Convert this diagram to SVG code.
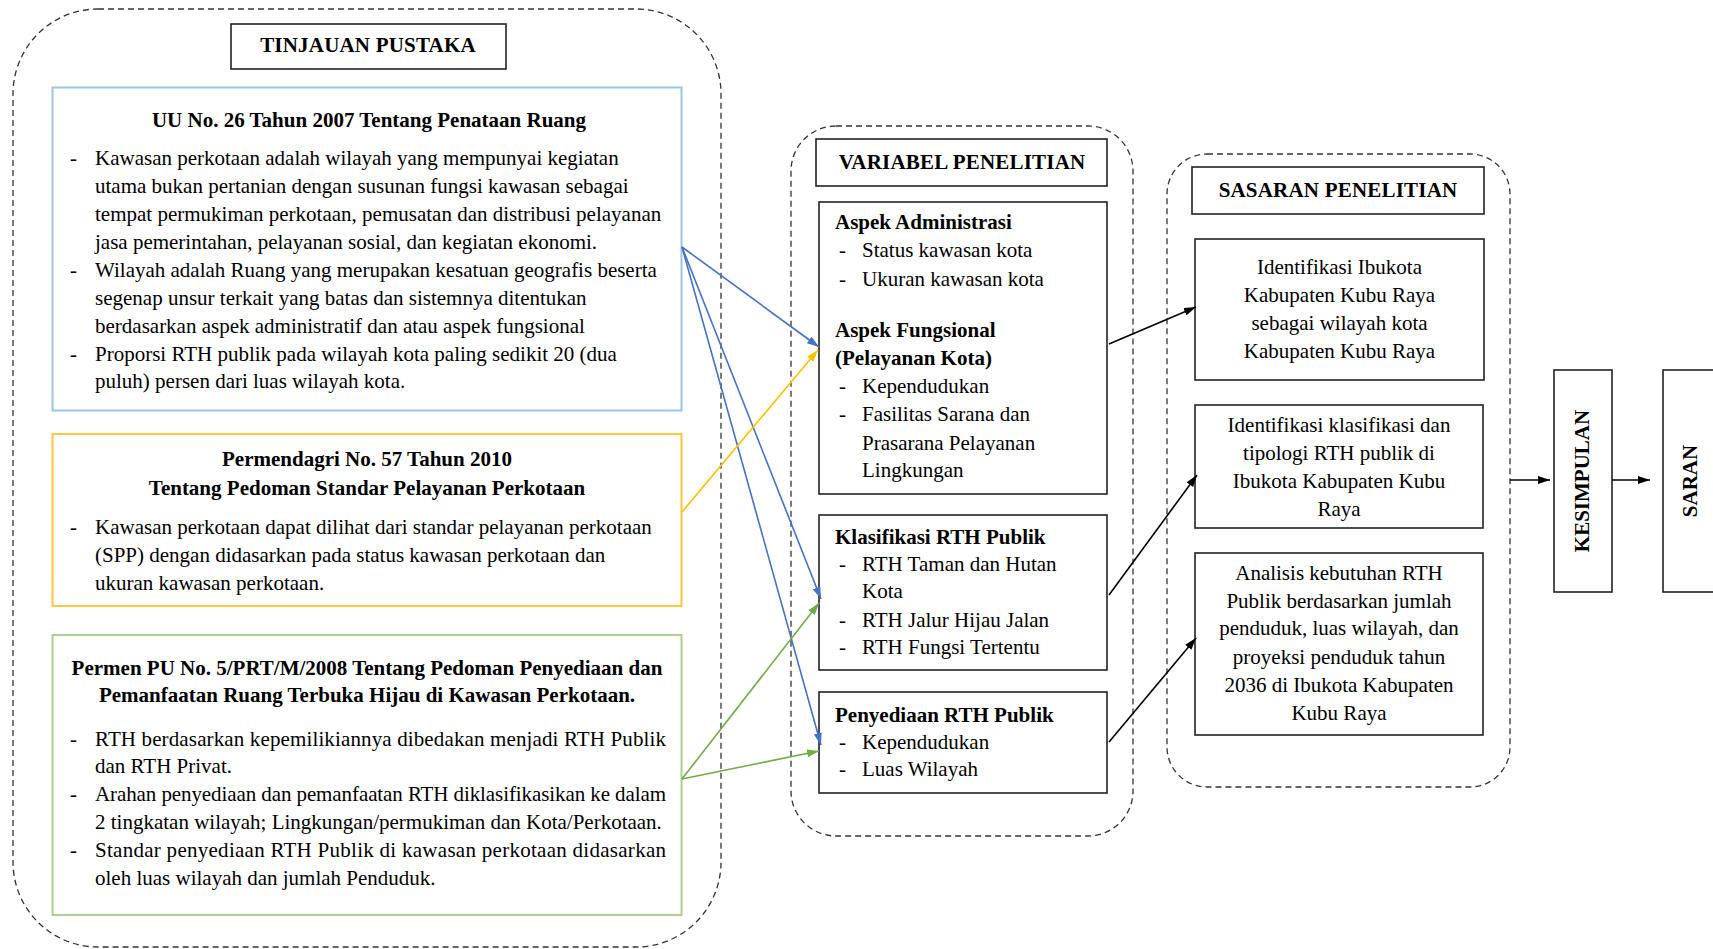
<svg xmlns="http://www.w3.org/2000/svg" width="1713" height="949" viewBox="0 0 1713 949">
<style>
text{font-family:"Liberation Serif","Times New Roman",serif;font-size:21px;fill:#000}
.b{font-weight:bold}
.c{text-anchor:middle}
.hd{font-weight:bold;letter-spacing:0.2px}
.dash{fill:none;stroke:#333;stroke-width:1.3;stroke-dasharray:6 4}
.box{fill:#fff;stroke:#222;stroke-width:1.6}
.con{fill:none;stroke-width:1.6}
</style>
<defs>
<marker id="ab" viewBox="0 0 12 8" refX="12" refY="4" markerWidth="12" markerHeight="8" markerUnits="userSpaceOnUse" orient="auto"><path d="M0,0 L12,4 L0,8 z" fill="#4472C4"/></marker>
<marker id="ay" viewBox="0 0 12 8" refX="12" refY="4" markerWidth="12" markerHeight="8" markerUnits="userSpaceOnUse" orient="auto"><path d="M0,0 L12,4 L0,8 z" fill="#FFC000"/></marker>
<marker id="ag" viewBox="0 0 12 8" refX="12" refY="4" markerWidth="12" markerHeight="8" markerUnits="userSpaceOnUse" orient="auto"><path d="M0,0 L12,4 L0,8 z" fill="#70AD47"/></marker>
<marker id="ak" viewBox="0 0 12 8" refX="12" refY="4" markerWidth="12" markerHeight="8" markerUnits="userSpaceOnUse" orient="auto"><path d="M0,0 L12,4 L0,8 z" fill="#000"/></marker>
</defs>
<rect width="1713" height="949" fill="#fff"/>

<g id="tinjauan-group">
<rect class="dash" x="13" y="9" width="708" height="938" rx="85" ry="85"/>
</g>
<g id="tinjauan-header">
<rect class="box" x="231" y="24" width="275" height="45"/>
<text class="c hd" x="368" y="52">TINJAUAN PUSTAKA</text>
</g>

<g id="uu26">
<rect x="52.5" y="87.5" width="629" height="323" fill="#fff" stroke="#9DC3E6" stroke-width="2"/>
<text class="b c" x="369" y="127">UU No. 26 Tahun 2007 Tentang Penataan Ruang</text>
<text x="70" y="165">-</text><text x="95" y="165">Kawasan perkotaan adalah wilayah yang mempunyai kegiatan</text>
<text x="95" y="193">utama bukan pertanian dengan susunan fungsi kawasan sebagai</text>
<text x="95" y="221">tempat permukiman perkotaan, pemusatan dan distribusi pelayanan</text>
<text x="95" y="248.5">jasa pemerintahan, pelayanan sosial, dan kegiatan ekonomi.</text>
<text x="70" y="276.5">-</text><text x="95" y="276.5">Wilayah adalah Ruang yang merupakan kesatuan geografis beserta</text>
<text x="95" y="304.5">segenap unsur terkait yang batas dan sistemnya ditentukan</text>
<text x="95" y="332.5">berdasarkan aspek administratif dan atau aspek fungsional</text>
<text x="70" y="360.5">-</text><text x="95" y="360.5">Proporsi RTH publik pada wilayah kota paling sedikit 20 (dua</text>
<text x="95" y="388">puluh) persen dari luas wilayah kota.</text>
</g>

<g id="permendagri57">
<rect x="52.5" y="434" width="629" height="172" fill="#fff" stroke="#FFC83D" stroke-width="2"/>
<text class="b c" x="367" y="466">Permendagri No. 57 Tahun 2010</text>
<text class="b c" x="367" y="495">Tentang Pedoman Standar Pelayanan Perkotaan</text>
<text x="70" y="533.5">-</text><text x="95" y="533.5">Kawasan perkotaan dapat dilihat dari standar pelayanan perkotaan</text>
<text x="95" y="561.5">(SPP) dengan didasarkan pada status kawasan perkotaan dan</text>
<text x="95" y="589.5">ukuran kawasan perkotaan.</text>
</g>

<g id="permenpu5">
<rect x="52.5" y="635" width="629" height="280" fill="#fff" stroke="#A9D18E" stroke-width="2"/>
<text class="b c" x="367" y="674.5">Permen PU No. 5/PRT/M/2008 Tentang Pedoman Penyediaan dan</text>
<text class="b c" x="367" y="702">Pemanfaatan Ruang Terbuka Hijau di Kawasan Perkotaan.</text>
<text x="70" y="745.5">-</text><text x="95" y="745.5" textLength="571" lengthAdjust="spacing">RTH berdasarkan kepemilikiannya dibedakan menjadi RTH Publik</text>
<text x="95" y="773">dan RTH Privat.</text>
<text x="70" y="801">-</text><text x="95" y="801" textLength="571" lengthAdjust="spacing">Arahan penyediaan dan pemanfaatan RTH diklasifikasikan ke dalam</text>
<text x="95" y="829">2 tingkatan wilayah; Lingkungan/permukiman dan Kota/Perkotaan.</text>
<text x="70" y="857">-</text><text x="95" y="857" textLength="571" lengthAdjust="spacing">Standar penyediaan RTH Publik di kawasan perkotaan didasarkan</text>
<text x="95" y="884.5">oleh luas wilayah dan jumlah Penduduk.</text>
</g>

<g id="variabel-group">
<rect class="dash" x="791" y="126" width="342" height="710" rx="45" ry="45"/>
</g>
<g id="variabel-header">
<rect class="box" x="816" y="139" width="291" height="47"/>
<text class="c hd" x="962" y="169">VARIABEL PENELITIAN</text>
</g>

<g id="aspek">
<rect class="box" x="819" y="202" width="288" height="292"/>
<text class="b" x="835" y="229">Aspek Administrasi</text>
<text x="839" y="257">-</text><text x="862" y="257">Status kawasan kota</text>
<text x="839" y="285.5">-</text><text x="862" y="285.5">Ukuran kawasan kota</text>
<text class="b" x="835" y="337">Aspek Fungsional</text>
<text class="b" x="835" y="365">(Pelayanan Kota)</text>
<text x="839" y="392.5">-</text><text x="862" y="392.5">Kependudukan</text>
<text x="839" y="421">-</text><text x="862" y="421">Fasilitas Sarana dan</text>
<text x="862" y="449.5">Prasarana Pelayanan</text>
<text x="862" y="477">Lingkungan</text>
</g>

<g id="klasifikasi">
<rect class="box" x="819" y="515" width="288" height="155"/>
<text class="b" x="835" y="543.5">Klasifikasi RTH Publik</text>
<text x="839" y="570.5">-</text><text x="862" y="570.5">RTH Taman dan Hutan</text>
<text x="862" y="598">Kota</text>
<text x="839" y="626.5">-</text><text x="862" y="626.5">RTH Jalur Hijau Jalan</text>
<text x="839" y="654">-</text><text x="862" y="654">RTH Fungsi Tertentu</text>
</g>

<g id="penyediaan">
<rect class="box" x="819" y="692" width="288" height="101"/>
<text class="b" x="835" y="721.5">Penyediaan RTH Publik</text>
<text x="839" y="749">-</text><text x="862" y="749">Kependudukan</text>
<text x="839" y="776">-</text><text x="862" y="776">Luas Wilayah</text>
</g>

<g id="sasaran-group">
<rect class="dash" x="1167" y="154" width="343" height="633" rx="40" ry="40"/>
</g>
<g id="sasaran-header">
<rect class="box" x="1192" y="167" width="292" height="47"/>
<text class="c hd" x="1338" y="197">SASARAN PENELITIAN</text>
</g>

<g id="sasaran1">
<rect class="box" x="1195" y="239" width="289" height="141"/>
<text class="c" x="1339.5" y="273.5">Identifikasi Ibukota</text>
<text class="c" x="1339.5" y="302">Kabupaten Kubu Raya</text>
<text class="c" x="1339.5" y="329.5">sebagai wilayah kota</text>
<text class="c" x="1339.5" y="357.5">Kabupaten Kubu Raya</text>
</g>

<g id="sasaran2">
<rect class="box" x="1195" y="405" width="288" height="123"/>
<text class="c" x="1339" y="432">Identifikasi klasifikasi dan</text>
<text class="c" x="1339" y="459.5">tipologi RTH publik di</text>
<text class="c" x="1339" y="487.5">Ibukota Kabupaten Kubu</text>
<text class="c" x="1339" y="516">Raya</text>
</g>

<g id="sasaran3">
<rect class="box" x="1195" y="553" width="288" height="182"/>
<text class="c" x="1339" y="579.5">Analisis kebutuhan RTH</text>
<text class="c" x="1339" y="608">Publik berdasarkan jumlah</text>
<text class="c" x="1339" y="635">penduduk, luas wilayah, dan</text>
<text class="c" x="1339" y="663.5">proyeksi penduduk tahun</text>
<text class="c" x="1339" y="692">2036 di Ibukota Kabupaten</text>
<text class="c" x="1339" y="719.5">Kubu Raya</text>
</g>

<g id="kesimpulan">
<rect class="box" x="1554" y="370" width="58" height="222"/>
<text class="b c" transform="translate(1589,481) rotate(-90)">KESIMPULAN</text>
</g>

<g id="saran">
<rect class="box" x="1663" y="370" width="60" height="222"/>
<text class="b c" transform="translate(1697,481) rotate(-90)">SARAN</text>
</g>

<g id="connectors">
<line class="con" x1="682" y1="247" x2="819" y2="347" stroke="#4472C4" marker-end="url(#ab)"/>
<line class="con" x1="682" y1="247" x2="821" y2="599" stroke="#4472C4" marker-end="url(#ab)"/>
<line class="con" x1="682" y1="247" x2="821" y2="745" stroke="#4472C4" marker-end="url(#ab)"/>
<line class="con" x1="682" y1="512" x2="818" y2="350" stroke="#FFC000" marker-end="url(#ay)"/>
<line class="con" x1="682" y1="779" x2="819" y2="603" stroke="#70AD47" marker-end="url(#ag)"/>
<line class="con" x1="682" y1="779" x2="819" y2="751" stroke="#70AD47" marker-end="url(#ag)"/>
<line class="con" x1="1109" y1="344" x2="1196" y2="307" stroke="#000" marker-end="url(#ak)"/>
<line class="con" x1="1109" y1="595" x2="1197" y2="475" stroke="#000" marker-end="url(#ak)"/>
<line class="con" x1="1109" y1="742" x2="1196" y2="638" stroke="#000" marker-end="url(#ak)"/>
<line class="con" x1="1510" y1="480" x2="1550" y2="480" stroke="#000" marker-end="url(#ak)"/>
<line class="con" x1="1612" y1="480" x2="1650" y2="480" stroke="#000" marker-end="url(#ak)"/>
</g>
</svg>
